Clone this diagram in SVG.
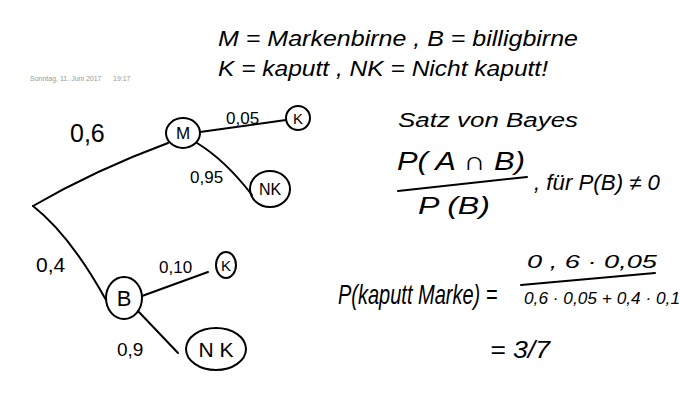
<svg xmlns="http://www.w3.org/2000/svg" width="680" height="412" viewBox="0 0 680 412">
<style>
.hw{font-family:"Liberation Sans",Arial,sans-serif;fill:#000;font-style:italic}
.node{fill:none;stroke:#000;stroke-width:2}
.edge{fill:none;stroke:#000;stroke-width:2;stroke-linecap:round}
.nl{font-family:"Liberation Sans",Arial,sans-serif;fill:#000;text-anchor:middle}
.el{font-family:"Liberation Sans",Arial,sans-serif;fill:#000}
</style>
<rect width="680" height="412" fill="#fff"/>
<text x="30" y="81" font-family="Liberation Sans,Arial,sans-serif" font-size="7" fill="#999">Sonntag, 11. Juni 2017</text>
<text x="113" y="81" font-family="Liberation Sans,Arial,sans-serif" font-size="7" fill="#999">19:17</text>
<text class="hw" x="218" y="46" font-size="22" textLength="360" lengthAdjust="spacingAndGlyphs">M = Markenbirne , B = billigbirne</text>
<text class="hw" x="218" y="76" font-size="22" textLength="330" lengthAdjust="spacingAndGlyphs">K = kaputt , NK = Nicht kaputt!</text>
<g id="connectors">
<path class="edge" d="M33 206 Q95 170 168 143"/>
<path class="edge" d="M33 206 Q70 235 106 300"/>
<path class="edge" d="M200 132 L286 120"/>
<path class="edge" d="M197 143 Q225 160 252 195"/>
<path class="edge" d="M142 296 L208 272"/>
<path class="edge" d="M138 311 L178 353"/>
</g>
<g id="n_M"><ellipse class="node" cx="183" cy="133" rx="17" ry="15"/><text class="nl" x="183" y="139" font-size="17">M</text></g>
<g id="n_K1"><ellipse class="node" cx="298" cy="118" rx="12" ry="12"/><text class="nl" x="298" y="124" font-size="15">K</text></g>
<g id="n_NK1"><ellipse class="node" cx="270" cy="189" rx="20" ry="18"/><text class="nl" x="270" y="195" font-size="16">NK</text></g>
<g id="n_B"><ellipse class="node" cx="124" cy="298" rx="18" ry="21"/><text class="nl" x="124" y="306" font-size="22">B</text></g>
<g id="n_K2"><ellipse class="node" cx="226" cy="265" rx="10" ry="13"/><text class="nl" x="226" y="271" font-size="15">K</text></g>
<g id="n_NK2"><ellipse class="node" cx="216" cy="349" rx="30" ry="21"/><text class="nl" x="216" y="357" font-size="21">N K</text></g>
<text class="el" x="70" y="142" font-size="25">0,6</text>
<text class="el" x="226" y="124" font-size="17">0,05</text>
<text class="el" x="190" y="183" font-size="17">0,95</text>
<text class="el" x="36" y="272" font-size="21">0,4</text>
<text class="el" x="159" y="273" font-size="17">0,10</text>
<text class="el" x="117" y="356" font-size="19">0,9</text>
<text class="hw" x="398" y="127" font-size="20" textLength="180" lengthAdjust="spacingAndGlyphs">Satz von Bayes</text>
<text class="hw" x="397" y="170" font-size="26" textLength="128" lengthAdjust="spacingAndGlyphs">P( A ∩ B)</text>
<path class="edge" d="M398 191 L527 177"/>
<text class="hw" x="418" y="214" font-size="24" textLength="72" lengthAdjust="spacingAndGlyphs">P (B)</text>
<text class="hw" x="534" y="190" font-size="22" textLength="126" lengthAdjust="spacingAndGlyphs">, für P(B) ≠ 0</text>
<text class="hw" transform="translate(338,304) scale(1,1.35)" x="0" y="0" font-size="20">P(kaputt Marke) =</text>
<text class="hw" x="527" y="268" font-size="19" textLength="130" lengthAdjust="spacingAndGlyphs">0 , 6  · 0,05</text>
<path class="edge" d="M521 285 L655 273"/>
<text class="hw" x="524" y="304" font-size="16" textLength="156" lengthAdjust="spacingAndGlyphs">0,6 · 0,05 + 0,4 · 0,1</text>
<text class="hw" x="490" y="358" font-size="24" textLength="60" lengthAdjust="spacingAndGlyphs">= 3/7</text>
</svg>
